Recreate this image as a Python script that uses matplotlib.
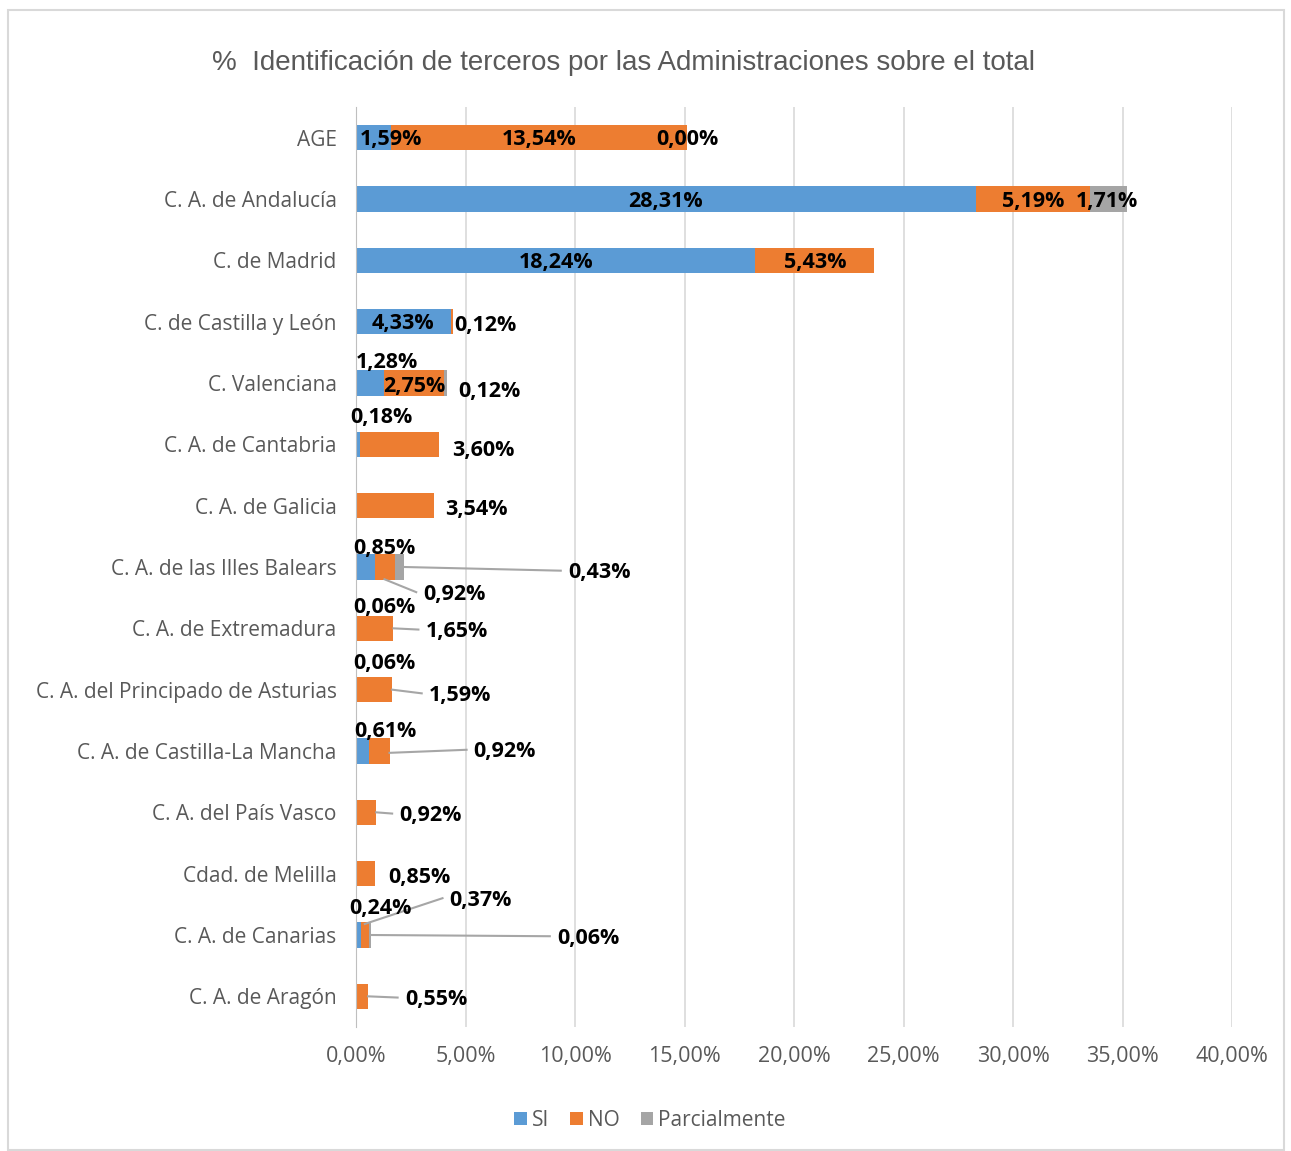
import matplotlib.pyplot as plt
from matplotlib.patches import Rectangle

categorias = ['AGE', 'C. A. de Andalucía', 'C. de Madrid', 'C. de Castilla y León',
              'C. Valenciana', 'C. A. de Cantabria', 'C. A. de Galicia',
              'C. A. de las Illes Balears', 'C. A. de Extremadura',
              'C. A. del Principado de Asturias', 'C. A. de Castilla-La Mancha',
              'C. A. del País Vasco', 'Cdad. de Melilla', 'C. A. de Canarias',
              'C. A. de Aragón']
si = [1.59, 28.31, 18.24, 4.33, 1.28, 0.18, 0, 0.85, 0.06, 0.06, 0.61, 0, 0, 0.24, 0]
no = [13.54, 5.19, 5.43, 0.12, 2.75, 3.60, 3.54, 0.92, 1.65, 1.59, 0.92, 0.92, 0.85, 0.37, 0.55]
parcial = [0.00, 1.71, 0, 0, 0.12, 0, 0, 0.43, 0, 0, 0, 0, 0, 0.06, 0]

AZUL = '#5B9BD5'
NARANJA = '#ED7D31'
GRIS = '#A5A5A5'

# posiciones de etiquetas: (fila, serie, x_texto, dy, linea_desde)  serie: 0 SI, 1 NO, 2 Parcial
etiquetas = [
    (0, 0, 1.6, 0, None), (0, 1, 8.36, 0, None), (0, 2, 15.15, 0, None),
    (1, 0, 14.15, 0, None), (1, 1, 30.9, 0, None), (1, 2, 34.3, 0, None),
    (2, 0, 9.12, 0, None), (2, 1, 20.96, 0, None),
    (3, 0, 2.16, 0, None), (3, 1, 5.9, 0.02, None),
    (4, 0, 1.4, -0.37, None), (4, 1, 2.65, 0.02, None), (4, 2, 6.1, 0.1, None),
    (5, 0, 1.15, -0.47, None), (5, 1, 5.8, 0.06, None),
    (6, 1, 5.5, 0.02, None),
    (7, 0, 1.3, -0.34, None), (7, 2, 11.1, 0.06, (2.2, 0.0)), (7, 1, 4.5, 0.41, (1.3, 0.2)),
    (8, 0, 1.3, -0.37, None), (8, 1, 4.6, 0.02, (1.71, 0.0)),
    (9, 0, 1.3, -0.46, None), (9, 1, 4.75, 0.06, (1.65, 0.0)),
    (10, 0, 1.35, -0.35, None), (10, 1, 6.8, -0.02, (1.53, 0.03)),
    (11, 1, 3.4, 0.02, (0.92, 0.0)),
    (12, 1, 2.9, 0.02, None),
    (13, 0, 1.1, -0.46, None), (13, 1, 5.7, -0.6, (0.4, -0.18)), (13, 2, 10.6, 0.02, (0.67, 0.0)),
    (14, 1, 3.65, 0.02, (0.55, 0.0)),
]

fig = plt.figure(figsize=(12.91, 11.51), dpi=100)
fig.patches.append(Rectangle((8 / 1291, 1 - 1150 / 1151), 1276 / 1291, 1140 / 1151,
                             transform=fig.transFigure, fill=False,
                             edgecolor='#D9D9D9', linewidth=1.5))
ax = fig.add_axes([356 / 1291, 1 - 1027 / 1151, 876 / 1291, 920 / 1151])

y = list(range(len(categorias)))
izq_no = si
izq_par = [a + b for a, b in zip(si, no)]
ax.barh(y, si, height=0.41, color=AZUL, label='SI', zorder=3)
ax.barh(y, no, left=izq_no, height=0.41, color=NARANJA, label='NO', zorder=3)
ax.barh(y, parcial, left=izq_par, height=0.41, color=GRIS, label='Parcialmente', zorder=3)

series = [si, no, parcial]
for fila, s, xt, dy, linea in etiquetas:
    valor = series[s][fila]
    texto = f'{valor:.2f}%'.replace('.', ',')
    ax.text(xt, fila + dy + 0.035, texto, ha='center', va='center', fontsize=15.5,
            fontweight='bold', family='Open Sans', color='black', zorder=5)
    if linea is not None:
        x0, dy0 = linea
        x1 = xt - 1.75
        ax.plot([x0, x1], [fila + dy0, fila + dy], color='#A6A6A6', lw=1.5, zorder=4)

ax.set_xlim(0, 40)
ax.set_ylim(14.5, -0.5)
ax.set_xticks(range(0, 41, 5))
ax.set_xticklabels([f'{v:.2f}%'.replace('.', ',') for v in range(0, 41, 5)],
                   fontsize=15.5, color='#595959', family='Open Sans')
ax.set_yticks(y)
ax.set_yticklabels(categorias, fontsize=15, color='#595959', family='Open Sans')
ax.tick_params(axis='y', length=0, pad=14)
ax.tick_params(axis='x', length=0, pad=14)
ax.grid(axis='x', color='#D9D9D9', lw=1.2, zorder=0)
for lado in ['top', 'right', 'bottom']:
    ax.spines[lado].set_visible(False)
ax.spines['left'].set_color('#BFBFBF')
ax.spines['left'].set_zorder(4)

fig.text(623 / 1291, 1 - 63 / 1151, '%  Identificación de terceros por las Administraciones sobre el total',
         ha='center', va='center', fontsize=20, color='#595959', family='Liberation Sans')

fig.legend(loc='center', bbox_to_anchor=(650 / 1291, 1 - 1120 / 1151), ncol=3, frameon=False,
           handlelength=0.6, handleheight=0.6, handletextpad=0.25,
           columnspacing=1.0, prop={'family': 'Open Sans', 'size': 15},
           labelcolor='#595959')

fig.savefig('out.png', dpi=100)
